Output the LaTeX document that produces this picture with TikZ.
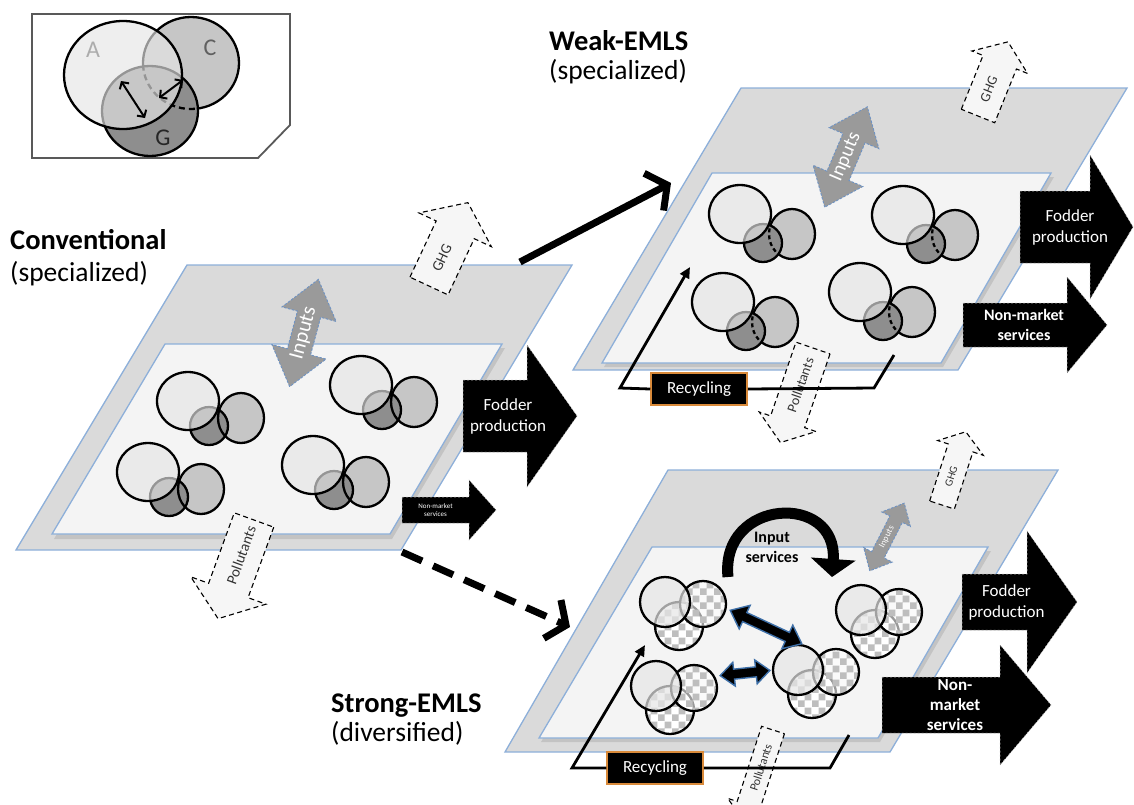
\documentclass[tikz,border=0pt]{standalone}
\usepackage{fontspec}
\setmainfont{Carlito}
\usetikzlibrary{arrows.meta,patterns}

\definecolor{layergrey}{HTML}{DADADA}
\definecolor{layerwhite}{HTML}{F4F4F4}
\definecolor{layerblue}{HTML}{8DAFD9}
\definecolor{layershade}{HTML}{A8A8A8}
\definecolor{ringA}{HTML}{E6E6E6}
\definecolor{ringC}{HTML}{C6C6C6}
\definecolor{ringG}{HTML}{8E8E8E}
\definecolor{inputgrey}{HTML}{9A9A9A}
\definecolor{inputblue}{HTML}{6E93C4}
\definecolor{fluxfill}{HTML}{F6F6F6}
\definecolor{recorange}{HTML}{D98A3A}
\definecolor{checkgrey}{HTML}{BEBEBE}
\definecolor{linkblue}{HTML}{3D6FA8}

% checkerboard used for the mixed farms
\pgfdeclarepatternformonly{bigchecks}{\pgfpointorigin}{\pgfqpoint{14pt}{14pt}}{\pgfqpoint{14pt}{14pt}}{%
  \pgfpathrectangle{\pgfpointorigin}{\pgfqpoint{7pt}{7pt}}%
  \pgfpathrectangle{\pgfqpoint{7pt}{7pt}}{\pgfqpoint{7pt}{7pt}}%
  \pgfusepath{fill}}

% block arrow: style, base, angle, length, shaft half width, head half width, head length, label options, label
\newcommand{\blockarrow}[9]{%
  \begin{scope}[shift={#2},rotate=#3]
    \path[#1] (0,-#5) -- ({#4-#7},-#5) -- ({#4-#7},-#6) -- (#4,0)
      -- ({#4-#7},#6) -- ({#4-#7},#5) -- (0,#5) -- cycle;
    \node[transform shape,#8] at ({(#4-#7)/2},0) {#9};
  \end{scope}}

% two-headed block arrow: style, centre, angle, length, shaft half width, head half width, head length, label options, label
\newcommand{\twinarrow}[9]{%
  \begin{scope}[shift={#2},rotate=#3]
    \path[#1] ({-#4/2},0) -- ({-#4/2+#7},-#6) -- ({-#4/2+#7},-#5)
      -- ({#4/2-#7},-#5) -- ({#4/2-#7},-#6) -- ({#4/2},0)
      -- ({#4/2-#7},#6) -- ({#4/2-#7},#5) -- ({-#4/2+#7},#5)
      -- ({-#4/2+#7},#6) -- cycle;
    \node[transform shape,#8] at (0,0) {#9};
  \end{scope}}

% specialised farm: A, C and G rings; #2 = style of the C ring inside G
\newcommand{\trio}[4]{%
  \begin{scope}[shift={#1}]
    \path[fill=ringC] #3 ellipse [x radius=23, y radius=25];
    \draw[ring] #3 ellipse [x radius=23, y radius=25];
    \path[fill=ringG] #4 circle (19);
    \begin{scope}
      \clip #4 circle (19);
      \draw[ring,#2] #3 ellipse [x radius=23, y radius=25];
    \end{scope}
    \draw[ring] #4 circle (19);
    \path[fill=ringA, fill opacity=0.65] (0,0) ellipse [x radius=31, y radius=29];
    \draw[ring] (0,0) ellipse [x radius=31, y radius=29];
  \end{scope}}

% diversified farm: three overlapping rings, two of them checkered
\newcommand{\mixtrio}[1]{%
  \begin{scope}[shift={#1}]
    \path[fill=white] (14,24) circle (24);
    \path[pattern=bigchecks, pattern color=checkgrey] (14,24) circle (24);
    \draw[ring] (14,24) circle (24);
    \path[fill=white, fill opacity=0.6] (38,2) circle (23);
    \path[pattern=bigchecks, pattern color=checkgrey] (38,2) circle (23);
    \draw[ring] (38,2) circle (23);
    \path[fill=ringA, fill opacity=0.7] (0,0) circle (25);
    \draw[ring] (0,0) circle (25);
  \end{scope}}

\tikzset{
  layerout/.style={fill=layergrey, draw=layerblue, line width=1.3pt},
  layerin/.style={fill=layerwhite, draw=layerblue, line width=1.3pt},
  layershadow/.style={fill=layershade, fill opacity=0.45},
  ring/.style={draw=black, line width=2.3pt},
  keyframe/.style={fill=white, draw=gray!70!black, line width=1.8pt},
  keylabel/.style={inner sep=0pt, font=\fontsize{24}{28}\selectfont},
  keylink/.style={line width=2pt, {Straight Barb[length=5pt,width=11pt]}-{Straight Barb[length=5pt,width=11pt]}},
  headline/.style={anchor=base west, inner sep=0pt, font=\fontsize{28.5}{32}\selectfont\bfseries},
  subline/.style={anchor=base west, inner sep=0pt, font=\fontsize{27.5}{31}\selectfont},
  fluxbox/.style={fill=fluxfill, draw=black, line width=1.1pt, dash pattern=on 5pt off 3.5pt},
  fluxtext/.style={inner sep=0pt, text=black!80},
  inputbox/.style={fill=inputgrey, draw=inputblue, line width=0.9pt, dash pattern=on 2.5pt off 1.5pt},
  inputtext/.style={inner sep=0pt, text=white},
  outbox/.style={fill=black, draw=gray!60, line width=0.5pt, dash pattern=on 2pt off 2pt},
  outtext/.style={inner sep=0pt, text=white, align=center},
  linkbox/.style={fill=black, draw=linkblue, line width=1.4pt},
  bigarrow/.style={line width=7pt, -{Straight Barb[length=15pt,width=42pt]}},
  recbox/.style={fill=black, draw=recorange, line width=1.5pt, text=white,
    font=\fontsize{17}{20}\selectfont, minimum width=96pt, minimum height=32pt, inner sep=0pt},
  recline/.style={line width=2.8pt},
}

\begin{document}
\begin{tikzpicture}[x=1pt,y=-1pt]
\useasboundingbox (0,0) rectangle (1134,804);

% ---------- key: the three rings ----------
\draw[keyframe] (32,14) -- (290,14) -- (290,125) -- (258,158) -- (32,158) -- cycle;
\path[fill=ringC] (191,63) ellipse [x radius=48, y radius=46];
\draw[ring] (191,63) ellipse [x radius=48, y radius=46];
\path[fill=ringG] (150,111) ellipse [x radius=48, y radius=45];
\begin{scope}
  \clip (150,111) ellipse [x radius=48, y radius=45];
  \draw[ring, dash pattern=on 6pt off 4pt] (191,63) ellipse [x radius=48, y radius=46];
\end{scope}
\draw[ring] (150,111) ellipse [x radius=48, y radius=45];
\path[fill=ringA, fill opacity=0.65] (123,75) ellipse [x radius=59, y radius=54];
\draw[ring] (123,75) ellipse [x radius=59, y radius=54];
\node[keylabel, text=gray!65] (keyA) at (93,50) {A};
\node[keylabel, text=gray!75!black] (keyC) at (210,48) {C};
\node[keylabel, text=gray!30!black] (keyG) at (163,138) {G};
\coordinate (kA1) at (121,81);  \coordinate (kA2) at (145,118);
\coordinate (kC1) at (159,98);  \coordinate (kC2) at (183,80);
\draw[keylink] (kA1) -- (kA2);
\draw[keylink] (kC1) -- (kC2);

% ---------- titles ----------
\node[headline] (convT) at (10,249) {Conventional};
\node[subline] (convS) at (10,281) {(specialized)};
\node[headline] (weakT) at (549,50) {Weak-EMLS};
\node[subline] (weakS) at (549,79) {(specialized)};
\node[headline] (strongT) at (331,712) {Strong-EMLS};
\node[subline] (strongS) at (331,741) {(diversified)};

% ---------- conventional system ----------
\draw[layerout] (187,265) -- (572,265) -- (401,550) -- (16,550) -- cycle;
\path[layershadow] (167,348) -- (505,348) -- (392,539) -- (54,539) -- cycle;
\draw[layerin] (165,344) -- (502,344) -- (390,534) -- (52,534) -- cycle;
\trio{(188,401)}{solid}{(53,17)}{(21,25)}
\trio{(361,385)}{solid}{(53,17)}{(21,25)}
\trio{(148,472)}{solid}{(53,17)}{(21,25)}
\trio{(313,465)}{solid}{(53,17)}{(21,25)}
\twinarrow{inputbox}{(304,333)}{75}{111}{12}{28}{36}{inputtext,name=inConv,font=\fontsize{21}{24}\selectfont}{Inputs}
\blockarrow{fluxbox}{(429,286)}{65}{92}{21}{40}{30}{fluxtext,name=ghgConv,font=\fontsize{15}{18}\selectfont}{GHG}
\blockarrow{fluxbox}{(254,520)}{250}{105}{21}{40}{30}{fluxtext,rotate=180,name=polConv,font=\fontsize{15}{18}\selectfont}{Pollutants}
\blockarrow{outbox}{(463,416)}{0}{114}{36}{71}{50}{outtext,xshift=13pt,name=fodConv,font=\fontsize{17}{21}\selectfont}{Fodder\\production}
\blockarrow{outbox}{(402,510)}{0}{94}{13}{30}{27}{outtext,name=nmConv,font=\fontsize{7}{8}\selectfont}{Non-market\\services}

% ---------- transitions ----------
\coordinate (convOut) at (520,262);
\coordinate (weakIn) at (671,183);
\draw[bigarrow] (convOut) -- (weakIn);
\coordinate (convOutB) at (402,552);
\coordinate (strongIn) at (570,627);
\draw[bigarrow, dash pattern=on 22pt off 12pt] (convOutB) -- (strongIn);

% ---------- weak EMLS ----------
\draw[layerout] (741,88) -- (1127,88) -- (958,370) -- (573,370) -- cycle;
\path[layershadow] (714,177) -- (1054,177) -- (943,367) -- (604,367) -- cycle;
\draw[layerin] (712,173) -- (1051,173) -- (941,363) -- (602,363) -- cycle;
\trio{(740,214)}{dash pattern=on 4pt off 3pt}{(52,20)}{(23,29)}
\trio{(903,215)}{dash pattern=on 4pt off 3pt}{(52,20)}{(23,29)}
\trio{(723,302)}{dash pattern=on 4pt off 3pt}{(52,20)}{(23,29)}
\trio{(860,292)}{dash pattern=on 4pt off 3pt}{(52,20)}{(23,29)}
\twinarrow{inputbox}{(846,157)}{67}{109}{12}{27}{34}{inputtext,name=inWeak,font=\fontsize{20}{24}\selectfont}{Inputs}
\blockarrow{fluxbox}{(978,116)}{68}{80}{18}{30}{22}{fluxtext,name=ghgWeak,font=\fontsize{14}{17}\selectfont}{GHG}
\blockarrow{fluxbox}{(813,348)}{251}{100}{18}{30}{22}{fluxtext,rotate=180,name=polWeak,font=\fontsize{14}{17}\selectfont}{Pollutants}
\blockarrow{outbox}{(1020,227)}{0}{113}{36}{72}{43}{outtext,xshift=15pt,name=fodWeak,font=\fontsize{17}{21}\selectfont}{Fodder\\production}
\blockarrow{outbox}{(963,325)}{0}{144}{22}{48}{40}{outtext,xshift=9pt,name=nmWeak,font=\fontsize{16}{20}\selectfont\bfseries}{Non-market\\services}
\node[recbox] (recW) at (699,389) {Recycling};
\coordinate (recW1) at (894,355);
\coordinate (recW2) at (874,388);
\coordinate (recW3) at (620,388);
\coordinate (recW4) at (690,267);
\draw[recline] (recW1) -- (recW2) -- (recW.east);
\draw[recline, -{Triangle[length=11pt,width=10pt]}] (recW.west) -- (recW3) -- (recW4);

% ---------- strong EMLS ----------
\draw[layerout] (668,470) -- (1058,470) -- (890,752) -- (505,752) -- cycle;
\path[layershadow] (654,551) -- (991,551) -- (880,742) -- (541,742) -- cycle;
\draw[layerin] (652,547) -- (988,547) -- (878,738) -- (539,738) -- cycle;
\mixtrio{(665,602)}
\mixtrio{(656,686)}
\mixtrio{(798,670)}
\mixtrio{(861,610)}
\twinarrow{linkbox}{(766,627)}{-25}{79}{5}{13}{16}{name=linkA}{}
\twinarrow{linkbox}{(745,673)}{6}{50}{5}{12}{14}{name=linkB}{}
\twinarrow{inputbox}{(887,537)}{63}{76}{7}{16}{18}{inputtext,name=inStrong,font=\fontsize{9}{11}\selectfont}{Inputs}
\blockarrow{fluxbox}{(942,505)}{72}{77}{13}{24}{17}{fluxtext,name=ghgStrong,font=\fontsize{11}{13}\selectfont}{GHG}
\blockarrow{fluxbox}{(773,730)}{252}{95}{12}{22}{16}{fluxtext,rotate=180,name=polStrong,font=\fontsize{12}{14}\selectfont}{Pollutants}
\blockarrow{outbox}{(962,602)}{0}{115}{28}{71}{50}{outtext,xshift=12pt,name=fodStrong,font=\fontsize{17}{21}\selectfont}{Fodder\\production}
\blockarrow{outbox}{(882,705)}{0}{169}{28}{60}{51}{outtext,xshift=14pt,name=nmStrong,font=\fontsize{17}{20}\selectfont\bfseries}{Non-\\market\\services}
\coordinate (svcA) at (728,577);
\coordinate (svcB) at (832,577);
\draw[line width=11pt, -{Triangle[length=18pt,width=44pt]}] (svcA) .. controls (720,498) and (838,492) .. (svcB);
\node[inner sep=0pt, align=center, font=\fontsize{16}{20}\selectfont\bfseries] (svcT) at (772,547) {Input\\services};
\node[recbox] (recS) at (655,768) {Recycling};
\coordinate (recS1) at (849,735);
\coordinate (recS2) at (830,768);
\coordinate (recS3) at (572,768);
\coordinate (recS4) at (645,645);
\draw[recline] (recS1) -- (recS2) -- (recS.east);
\draw[recline, -{Triangle[length=11pt,width=10pt]}] (recS.west) -- (recS3) -- (recS4);

\end{tikzpicture}
\end{document}
